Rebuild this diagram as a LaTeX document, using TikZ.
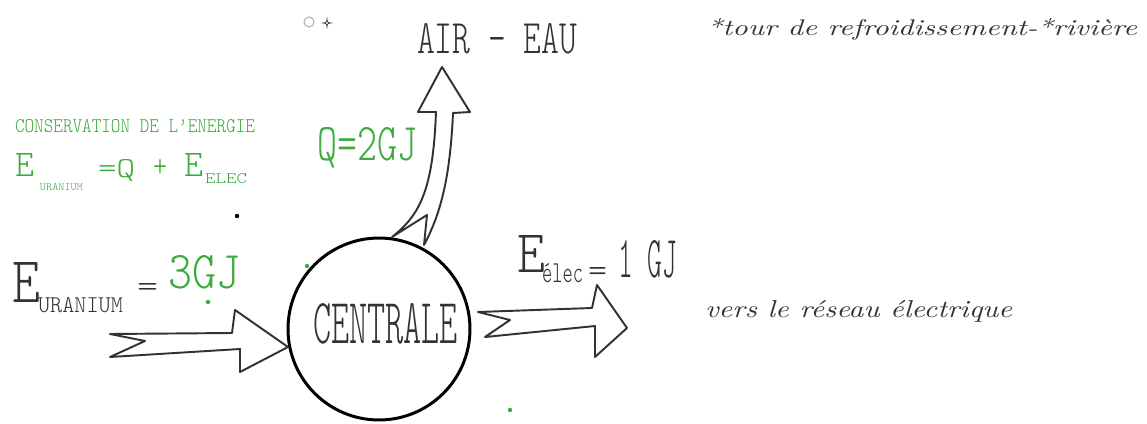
\documentclass[tikz,border=0pt]{standalone}
\usepackage{fontspec}
\usepackage{graphicx}
\newfontfamily\hand{Latin Modern Mono Light}
\definecolor{hgreen}{RGB}{60,170,60}
\definecolor{ink}{RGB}{50,50,50}
\newlength\pxu \setlength\pxu{0.02cm}
\newcommand\fitp[3]{\resizebox{#1\pxu}{#2\pxu}{#3}}
\tikzset{
  txt/.style={inner sep=0pt, outer sep=0pt, anchor=base west},
  blockarrow/.style={draw=ink, line width=1.1pt, line join=round, fill=white},
  dot/.style={circle, inner sep=0pt, minimum size=2.5pt}
}
\begin{document}
\begin{tikzpicture}[x=0.02cm, y=-0.02cm]
\fill[white] (0,0) rectangle (1147,423);
\useasboundingbox (0,0) rectangle (1147,423);

% central circle
\node[draw=black, line width=1.7pt, circle, minimum size=3.64cm, inner sep=0pt] (centrale) at (379,329) {};
\node[txt, text=ink] (centraletxt) at (313,343) {\fitp{145}{40}{\hand CENTRALE}};

% block arrows
\draw[blockarrow] (110,334) -- (232,333) -- (235,310) -- (288,347) -- (240,372) -- (240,349) -- (110,357) -- (145,341) -- cycle;
\draw[blockarrow] (478,312) -- (592,308) -- (597,285) -- (627,328) -- (595,357) -- (595,326) -- (485,337) -- (510,320) -- cycle;
\draw[blockarrow] (392,237) .. controls (420,215) and (433,190) .. (436,112) -- (418,112) -- (442,67) -- (470,112) -- (453,113) .. controls (450,180) and (440,215) .. (424,245) -- (427,215) -- cycle;

% top texts
\node[txt, text=ink] (air) at (417,53) {\fitp{160}{30}{\hand AIR - EAU}};
\node[txt, text=ink] (tour) at (707,35) {\fitp{430}{17}{\itshape *tour de refroidissement-*rivière}};
\node[txt, text=ink] (reseau) at (705,317) {\fitp{307}{17}{\itshape vers le réseau électrique}};

% green conservation formula
\node[txt, text=hgreen] (cons) at (15,132) {\fitp{240}{13}{\hand CONSERVATION DE L’ENERGIE}};
\node[txt, text=hgreen] (eu1) at (16,176) {\fitp{19}{23}{\hand E}};
\node[txt, text=hgreen] (eu1s) at (40,190) {\fitp{43}{7}{\hand URANIUM}};
\node[txt, text=hgreen] (eq1) at (98,177) {\fitp{37}{18}{\hand =Q}};
\node[txt, text=hgreen] (plus) at (153,176) {\fitp{14}{17}{\hand +}};
\node[txt, text=hgreen] (ee1) at (184,176) {\fitp{19}{23}{\hand E}};
\node[txt, text=hgreen] (ee1s) at (205,183) {\fitp{42}{10}{\hand ELEC}};

% heat label
\node[txt, text=hgreen] (q) at (317,160) {\fitp{100}{33}{\hand Q=2GJ}};

% uranium input label
\node[txt, text=ink] (eu2) at (12,302) {\fitp{28}{40}{\hand E}};
\node[txt, text=ink] (eu2s) at (38,312) {\fitp{85}{15}{\hand URANIUM}};
\node[txt, text=ink] (eq2) at (137,296) {\fitp{21}{13}{\hand =}};
\node[txt, text=hgreen] (g3) at (168,288) {\fitp{72}{33}{\hand 3GJ}};

% electricity output label
\node[txt, text=ink] (ee2) at (517,272) {\fitp{28}{37}{\hand E}};
\node[txt, text=ink] (ee2s) at (542,282) {\fitp{41}{19}{\hand élec}};
\node[txt, text=ink] (eq3) at (588,281) {\fitp{19}{14}{\hand =}};
\node[txt, text=ink] (g1) at (618,277) {\fitp{59}{37}{\hand 1 GJ}};

% small marks
\draw[gray!60, line width=0.6pt] (309,22) circle (5);
\draw[ink, line width=0.4pt] (327,19) .. controls (327.5,22.5) .. (331,23) .. controls (327.5,23.5) .. (327,27) .. controls (326.5,23.5) .. (323,23) .. controls (326.5,22.5) .. (327,19) -- cycle;
\node[dot, fill=black] (d1) at (237,216) {};
\node[dot, fill=hgreen] (d2) at (307,266) {};
\node[dot, fill=hgreen] (d3) at (208,302) {};
\node[dot, fill=hgreen] (d4) at (510,410) {};
\end{tikzpicture}
\end{document}
